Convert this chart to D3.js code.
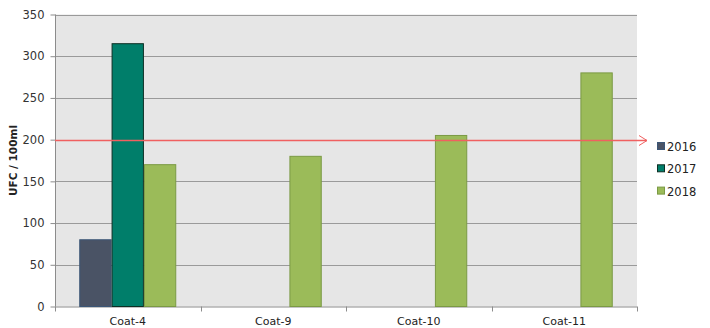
<!DOCTYPE html>
<html>
<head>
<meta charset="utf-8">
<script src="https://cdn.jsdelivr.net/npm/d3@7"></script>
<style>
  html, body { margin: 0; padding: 0; background: #fff; }
  text { font-family: "DejaVu Sans", "Liberation Sans", sans-serif; }
</style>
</head>
<body>
<svg id="chart" width="710" height="328"></svg>
<script>
const categories = ["Coat-4", "Coat-9", "Coat-10", "Coat-11"];
const years = ["2016", "2017", "2018"];
const values2016 = [80, 0, 0, 0];
const values2017 = [315, 0, 0, 0];
const values2018 = [170, 180, 205, 280];
const yTicks = [0, 50, 100, 150, 200, 250, 300, 350];
const limitValue = 200;

const seriesValues = [values2016, values2017, values2018];
const fills = ["#4a5365", "#007e6a", "#9bbb59"];
const strokes = ["#3b5677", "#0d2f24", "#7b9a44"];

const svg = d3.select("#chart");
const m = { left: 55, right: 637, top: 14.5, bottom: 306.5 };

const x = d3.scaleBand().domain(categories).range([m.left, m.right]).paddingInner(0).paddingOuter(0);
const xs = d3.scaleBand().domain(years).range([0, x.bandwidth()]).paddingInner(0).paddingOuter(0.75);
const y = d3.scaleLinear().domain([0, 350]).range([m.bottom, m.top]);

// plot background
svg.append("rect")
  .attr("x", m.left).attr("y", m.top)
  .attr("width", m.right - m.left).attr("height", m.bottom - m.top)
  .attr("fill", "#e6e6e6");

// horizontal gridlines
svg.append("g").selectAll("line").data(yTicks.filter(d => d > 0)).join("line")
  .attr("x1", m.left).attr("x2", m.right)
  .attr("y1", d => Math.round(y(d)) + 0.5).attr("y2", d => Math.round(y(d)) + 0.5)
  .attr("stroke", "#9a9a9a").attr("stroke-width", 1);

// y axis
const yAxis = svg.append("g")
  .attr("transform", `translate(${m.left + 0.5},0)`)
  .call(d3.axisLeft(y).tickValues(yTicks).tickSize(5).tickPadding(6));
yAxis.select(".domain").attr("stroke", "#8c8c8c").attr("d", `M0,${m.top}V${m.bottom}`);
yAxis.selectAll(".tick line").attr("stroke", "#8c8c8c");
yAxis.selectAll(".tick text").attr("font-size", 11.5).attr("fill", "#333");

// x axis
const xAxis = svg.append("g")
  .attr("transform", `translate(0,${m.bottom + 0.5})`)
  .call(d3.axisBottom(x).tickSize(0).tickPadding(10));
xAxis.select(".domain").attr("stroke", "#8c8c8c").attr("d", `M${m.left},0H${m.right}`);
xAxis.selectAll(".tick text").attr("font-size", 11).attr("fill", "#222");
// category separator ticks
svg.append("g").selectAll("line").data(d3.range(categories.length + 1)).join("line")
  .attr("x1", i => Math.round(m.left + i * x.bandwidth()) + 0.5)
  .attr("x2", i => Math.round(m.left + i * x.bandwidth()) + 0.5)
  .attr("y1", m.bottom).attr("y2", m.bottom + 5)
  .attr("stroke", "#8c8c8c");

// bars
years.forEach((yr, si) => {
  svg.append("g").selectAll("rect")
    .data(categories.map((c, i) => ({ c, v: seriesValues[si][i] })).filter(d => d.v > 0))
    .join("rect")
    .attr("x", d => x(d.c) + xs(yr) + 0.5)
    .attr("y", d => y(d.v))
    .attr("width", xs.bandwidth() - 1)
    .attr("height", d => y(0) - y(d.v))
    .attr("fill", fills[si])
    .attr("stroke", strokes[si])
    .attr("stroke-width", 1);
});

// limit line with open arrowhead
const ly = Math.round(y(limitValue)) + 0.5;
const lineEnd = 647;
svg.append("line")
  .attr("x1", m.left).attr("x2", lineEnd)
  .attr("y1", ly).attr("y2", ly)
  .attr("stroke", "#f06060").attr("stroke-width", 1.3);
svg.append("path")
  .attr("d", `M${lineEnd - 8},${ly - 5}L${lineEnd},${ly}L${lineEnd - 8},${ly + 5}`)
  .attr("fill", "none").attr("stroke", "#f06060").attr("stroke-width", 1);

// axis title
svg.append("text")
  .attr("transform", `translate(17,${(m.top + m.bottom) / 2}) rotate(-90)`)
  .attr("text-anchor", "middle")
  .attr("font-size", 10.5).attr("font-weight", "bold").attr("fill", "#222")
  .text("UFC / 100ml");

// legend
const legend = svg.append("g").attr("transform", "translate(657,147)");
years.forEach((yr, i) => {
  const g = legend.append("g").attr("transform", `translate(0,${i * 22.3})`);
  g.append("rect").attr("x", 0.5).attr("y", -4.5).attr("width", 7).attr("height", 7)
    .attr("fill", fills[i]).attr("stroke", strokes[i]);
  g.append("text").attr("x", 10).attr("y", 4).attr("font-size", 11.5).attr("fill", "#222").text(yr);
});
</script>
</body>
</html>
